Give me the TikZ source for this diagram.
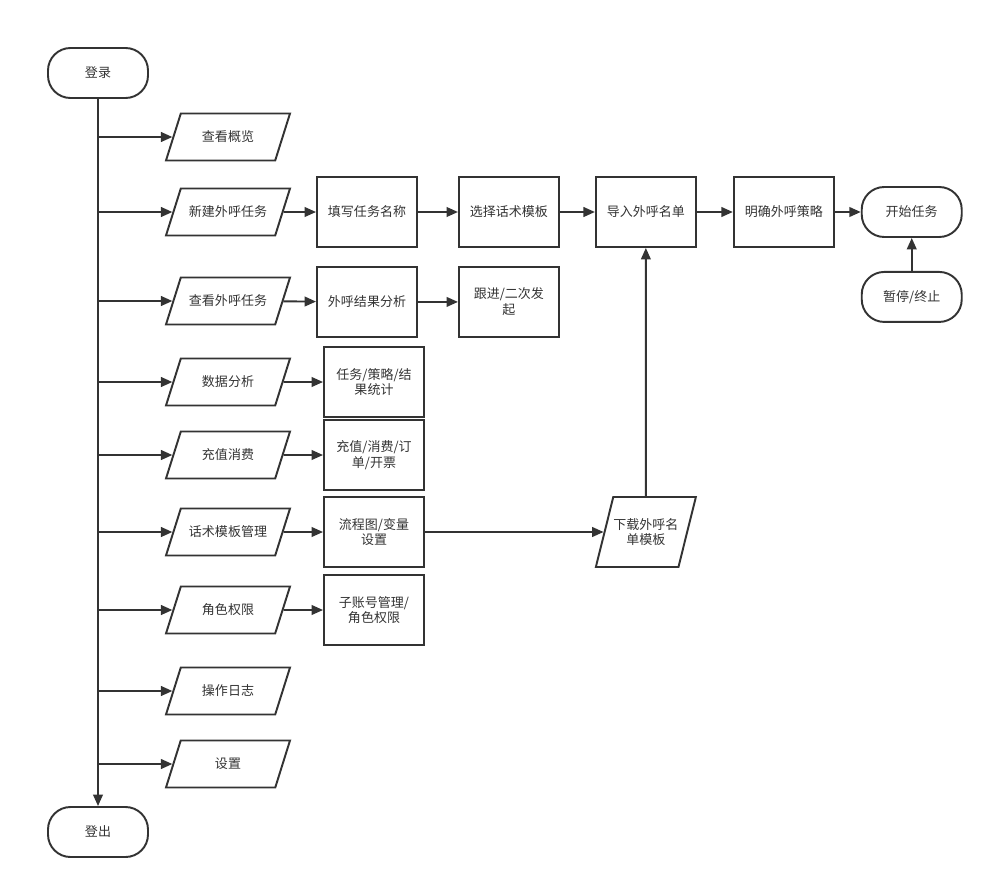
\documentclass[tikz,border=0pt]{standalone}
\usepackage{fontspec}
\newfontfamily\cjk{Noto Sans CJK SC}
\usetikzlibrary{shapes.geometric, positioning, arrows.meta}
\definecolor{ink}{HTML}{333333}
\tikzset{
  startstop/.style={rectangle, rounded corners=0.45cm, minimum width=2cm, minimum height=1cm, align=center, draw=ink},
  process/.style={rectangle, minimum width=2cm, minimum height=1.4cm, align=center, draw=ink},
  io/.style={trapezium, trapezium stretches body=true, trapezium left angle=71, trapezium right angle=109, inner ysep=0.31cm, minimum width=2.48cm, minimum height=0.94cm, align=center, draw=ink},
  arrow/.style={draw=ink, -{Triangle[length=6.5pt,width=5.5pt]}}
}

\begin{document}
\begin{tikzpicture}[line width=1.1pt, every node/.style={font=\cjk\fontsize{7.4}{9}\selectfont, text=ink}]
    \useasboundingbox (0,0) rectangle (19.86,-17.78);

    \node (login) [startstop] at (1.96,-1.46) {登录};
    \node (logout) [startstop] at (1.96,-16.64) {登出};

    % Menu
    \node (overview) [io] at (4.56,-2.74) {查看概览};
    \node (newtask) [io] at (4.56,-4.24) {新建外呼任务};
    \node (viewtask) [io] at (4.56,-6.02) {查看外呼任务};
    \node (data) [io] at (4.56,-7.64) {数据分析};
    \node (recharge) [io] at (4.56,-9.10) {充值消费};
    \node (script) [io] at (4.56,-10.64) {话术模板管理};
    \node (role) [io] at (4.56,-12.20) {角色权限};
    \node (log) [io] at (4.56,-13.82) {操作日志};
    \node (setting) [io] at (4.56,-15.28) {设置};

    % Nuevo task row
    \node (fillname) [process] at (7.34,-4.24) {填写任务名称};
    \node (choose) [process, right=0.80cm of fillname] {选择话术模板};
    \node (import) [process, right=0.70cm of choose] {导入外呼名单};
    \node (strategy) [process, right=0.72cm of import] {明确外呼策略};
    \node (begin) [startstop, right=0.52cm of strategy] {开始任务};
    \node (pause) [startstop, below=0.66cm of begin] {暂停/终止};

    \node (result) [process, below=0.36cm of fillname] {外呼结果分析};
    \node (follow) [process, right=0.80cm of result] {跟进/二次发\\起};

    \node (stats) [process] at (7.48,-7.64) {任务/策略/结\\果统计};
    \node (bill) [process] at (stats |- recharge) {充值/消费/订\\单/开票};
    \node (flow) [process] at (stats |- script) {流程图/变量\\设置};
    \node (account) [process] at (stats |- role) {子账号管理/\\角色权限};

    \node (download) [io, trapezium left angle=76, trapezium right angle=104, inner xsep=0pt, inner ysep=0.42cm, minimum width=2cm, minimum height=1.4cm] at (import |- flow) {下载外呼名\\单模板};

    % Tronco
    \draw [arrow] (login) -- (logout);
    \foreach \n in {overview,newtask,viewtask,data,recharge,script,role,log,setting}
        \draw [arrow] (login |- \n) -- (\n);

    % Flujo
    \foreach \a/\b in {newtask/fillname, fillname/choose, choose/import, import/strategy,
        strategy/begin, viewtask/result, result/follow, data/stats, recharge/bill,
        script/flow, role/account, flow/download}
        \draw [arrow] (\a) -- (\b);

    \draw [arrow] (download) -- (import);
    \draw [arrow] (pause) -- (begin);

\end{tikzpicture}
\end{document}
